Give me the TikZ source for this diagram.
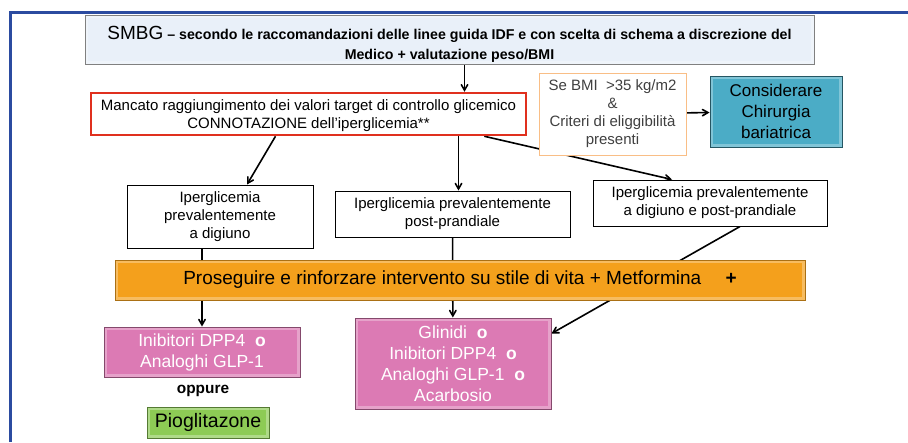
\documentclass[tikz,border=0pt]{standalone}
\usepackage{fontspec}
\setmainfont{Liberation Sans}
\usetikzlibrary{arrows,positioning,backgrounds}
\newcommand{\fsz}[2]{\fontsize{#1}{#2}\selectfont}
\definecolor{framec}{RGB}{43,75,160}
\definecolor{skyc}{RGB}{233,240,249}
\definecolor{redc}{RGB}{224,48,30}
\definecolor{peachc}{RGB}{249,190,134}
\definecolor{tealc}{RGB}{75,172,198}
\definecolor{orangec}{RGB}{244,160,28}
\definecolor{pinkc}{RGB}{220,122,180}
\definecolor{greenc}{RGB}{141,203,85}
\tikzstyle{plainbox}=[draw=black,line width=1pt,fill=white,align=center,inner sep=2pt,font=\fsz{15}{18}]
\tikzstyle{bevelbox}=[line width=1pt,align=center,inner sep=2pt,
  path picture={\draw[white,opacity=.3,line width=6pt] (path picture bounding box.south west) rectangle (path picture bounding box.north east);}]
\begin{document}
\begin{tikzpicture}[x=1pt,y=-1pt,>=angle 60]
\useasboundingbox (0,0) rectangle (908,442);
\draw[framec,line width=3pt] (10,442) -- (10,12) -- (908,12);
\node[bevelbox,fill=skyc,draw=gray,minimum width=729,minimum height=49,font=\fsz{14.2}{20}\bfseries] (smbg) at (449.5,39.5)
  {\rule{0pt}{22pt}{\fsz{19}{20}\mdseries SMBG} -- secondo le raccomandazioni delle linee guida IDF e con scelta di schema a discrezione del\\ Medico + valutazione peso/BMI};
\node[plainbox,draw=redc,line width=2.5pt,minimum width=435,minimum height=42] (target) at (308.5,114)
  {\rule{0pt}{15pt}Mancato raggiungimento dei valori target di controllo glicemico\\ CONNOTAZIONE dell'iperglicemia**};
\node[plainbox,draw=peachc,line width=.8pt,text=black!75,minimum width=147,minimum height=82] (bmi) at (612.5,114)
  {Se BMI \ \textgreater35 kg/m2\\ \&\\ Criteri di eliggibilità\\ presenti};
\node[bevelbox,fill=tealc,draw=tealc!50!black,minimum width=132,minimum height=71,font=\fsz{17}{21}] (chir) at (776,111.5)
  {Considerare\\ Chirurgia\\ bariatrica};
\node[plainbox,minimum width=186,minimum height=63] (dig) at (220,216.5)
  {Iperglicemia\\ prevalentemente\\ a digiuno};
\node[plainbox,minimum width=235,minimum height=46] (post) at (452.5,214)
  {Iperglicemia prevalentemente\\ post-prandiale};
\node[plainbox,minimum width=234,minimum height=46] (both) at (710,203)
  {Iperglicemia prevalentemente\\ a digiuno e post-prandiale};
\node[bevelbox,fill=orangec,draw=orangec!70!black,minimum width=690,minimum height=40,font=\fsz{19}{20}] (bar) at (460,280)
  {Proseguire e rinforzare intervento su stile di vita + Metformina \quad {\bfseries +}};
\node[bevelbox,fill=pinkc,draw=pinkc!60!black,text=white,minimum width=196,minimum height=50,font=\fsz{17.5}{21}] (pinkL) at (202,352)
  {Inibitori DPP4 \ \textbf{o}\\ Analoghi GLP-1};
\node[font=\fsz{15.4}{16}\bfseries] (oppure) at (203,391) {oppure};
\node[bevelbox,fill=greenc,draw=greenc!60!black,minimum width=122,minimum height=31,font=\fsz{19.5}{20}] (pio) at (208,422.5)
  {Pioglitazone};
\node[bevelbox,fill=pinkc,draw=pinkc!60!black,text=white,minimum width=196,minimum height=91,font=\fsz{17.5}{21}] (pinkM) at (453,363.5)
  {Glinidi \ \textbf{o}\\ Inibitori DPP4 \ \textbf{o}\\ Analoghi GLP-1 \ \textbf{o}\\ Acarbosio};
\begin{pgfonlayer}{background}
\path[->,line width=1.6pt]
([xshift=15]smbg.south) edge ([xshift=15]smbg.south |- target.north)
(bmi) edge (chir)
([xshift=-33]target.south) edge ([xshift=27]dig.north)
([xshift=6]target.south -| post.north) edge ([xshift=6]post.north)
([xshift=-43]target.south east) edge ([xshift=-38]both.north)
(pinkL.north |- dig.south) edge (pinkL.north)
(post) edge (pinkM)
([xshift=30]both.south) edge ([yshift=30]pinkM.east);
\end{pgfonlayer}
\end{tikzpicture}
\end{document}
